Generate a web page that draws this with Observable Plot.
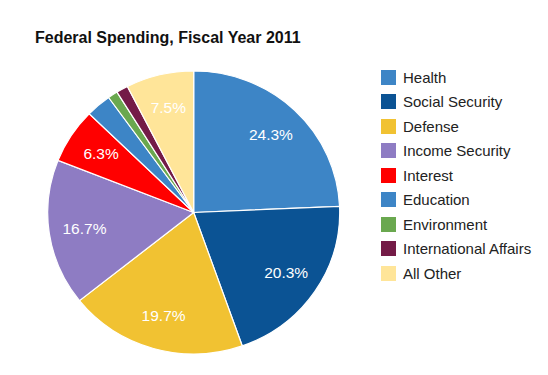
<!DOCTYPE html>
<html><head><meta charset="utf-8">
<script src="https://cdn.jsdelivr.net/npm/d3@7"></script>
<script src="https://cdn.jsdelivr.net/npm/@observablehq/plot@0.6"></script>
<style>
body{margin:0;background:#fff;font-family:"Liberation Sans",Arial,sans-serif;}
#chart{position:relative;width:548px;height:375px;overflow:hidden;background:#fff;}
#title{height:56px;box-sizing:border-box;padding:29px 0 0 35px;font-size:16px;font-weight:bold;line-height:18px;color:#111;white-space:nowrap;}
#plot svg{display:block;}
#legend{position:absolute;left:381px;top:65px;font-size:15px;color:#222;}
.item{display:flex;align-items:center;height:24.5px;white-space:nowrap;}
.sw{width:15px;height:15px;margin-right:7px;flex:none;}
</style></head><body>
<div id="chart"><div id="title"></div><div id="plot"></div><div id="legend"></div></div>
<script>
const titleText = "Federal Spending, Fiscal Year 2011";
const categories = ["Health","Social Security","Defense","Income Security","Interest","Education","Environment","International Affairs","All Other"];
const shares = [24.3,20.3,19.7,16.7,6.3,2.8,1.1,1.3,7.5];
const labels = ["24.3%","20.3%","19.7%","16.7%","6.3%","","","","7.5%"];
const colors = ["#3d85c6","#0b5394","#f1c232","#8e7cc3","#ff0000","#3d85c6","#6aa84f","#741b47","#ffe599"];

const data = categories.map((c, i) => ({category: c, value: shares[i], label: labels[i]}));
const color = Plot.scale({color: {type: "ordinal", domain: categories, range: colors}});

const W = 548, H = 319;
const cx = 193.7, cy = 156.5, r = 141.5, sx = 146 / 141.5;
const arcs = d3.pie().sort(null).value(d => d.value)(data);
const arc = d3.arc().innerRadius(0).outerRadius(r);
const labelArc = d3.arc().innerRadius(r * 0.52).outerRadius(r);
const labelData = arcs.filter(a => a.data.label).map(a => {
  const [x, y] = labelArc.centroid(a);
  return {x: cx + x * sx, y: cy + y, label: a.data.label};
});

function pieMark() {
  const g = d3.create("svg:g").attr("transform", `translate(${cx},${cy}) scale(${sx},1)`);
  g.selectAll("path").data(arcs).join("path")
    .attr("d", arc)
    .attr("fill", a => color.apply(a.data.category))
    .attr("stroke", "#fff")
    .attr("stroke-width", 1.2)
    .attr("vector-effect", "non-scaling-stroke");
  return g.node();
}

const chart = Plot.plot({
  width: W, height: H, margin: 0,
  style: {fontFamily: '"Liberation Sans", Arial, sans-serif', background: "#fff"},
  x: {type: "identity", axis: null},
  y: {type: "identity", axis: null},
  marks: [
    pieMark,
    Plot.text(labelData, {x: "x", y: "y", text: "label", fill: "#fff", fontSize: 15.5})
  ]
});
document.getElementById("plot").appendChild(chart);
document.getElementById("title").textContent = titleText;

const legend = d3.select("#legend");
const items = legend.selectAll(".item").data(categories).join("div").attr("class", "item");
items.append("span").attr("class", "sw").style("background", c => color.apply(c));
items.append("span").text(c => c);
</script>
</body></html>
